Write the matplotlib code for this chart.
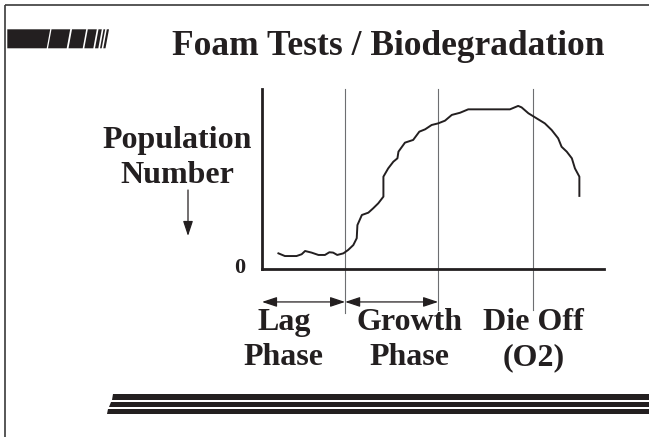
import matplotlib
matplotlib.use('Agg')
import matplotlib.pyplot as plt
from matplotlib.patches import Polygon

# кривая роста популяции (время / численность, условные единицы 0..100)
time = [4.8, 6.7, 10.1, 11.6, 12.6, 14.5, 16.5, 18.4, 19.7, 20.8, 22.0, 23.8,
        25.2, 26.7, 27.7, 27.9, 29.2, 31.1, 32.5, 34.0, 35.5, 35.5, 36.9, 38.4,
        39.6, 39.9, 41.8, 44.2, 46.0, 47.7, 49.6, 51.5, 53.5, 55.5, 57.9, 60.3,
        72.5, 74.9, 75.9, 77.9, 80.3, 82.7, 84.7, 86.6, 87.6, 89.1, 90.6, 91.5,
        92.8, 92.8]
population = [8.7, 7.2, 7.2, 8.2, 10.0, 9.1, 7.8, 7.8, 9.3, 9.1, 7.8, 8.7,
              10.6, 13.3, 17.1, 24.4, 30.0, 31.3, 33.7, 36.5, 40.2, 51.3, 55.9, 59.6,
              61.5, 65.2, 70.2, 71.7, 76.3, 77.6, 80.0, 80.9, 82.4, 85.6, 86.8, 88.7,
              88.7, 90.6, 89.8, 86.5, 83.7, 80.9, 77.2, 72.6, 67.9, 65.2, 61.5, 55.9,
              51.3, 40.6]

# границы фаз
phase_bounds = [24.3, 51.5, 79.2]
phase_top = ['Lag', 'Growth', 'Die Off']
phase_bottom = ['Phase', 'Phase', '(O2)']

title = 'Foam Tests / Biodegradation'
ylabel_lines = ['Population', 'Number']

ink = '#231f20'
font = 'Liberation Serif'
W, H = 649, 437

fig = plt.figure(figsize=(W / 100, H / 100), dpi=100)

# фоновый слой в пикселях: рамка, полосы, заголовок
bg = fig.add_axes([0, 0, 1, 1])
bg.set_xlim(0, W)
bg.set_ylim(H, 0)
bg.axis('off')

bg.plot([5, W], [5, 5], color='#3a3a3a', lw=1.2, solid_capstyle='butt')
bg.plot([5, 5], [5, H], color='#3a3a3a', lw=1.2, solid_capstyle='butt')

# декоративная полоса слева вверху
blocks = [(7.3, 46.7), (48, 66.7), (68.5, 82.7), (84.3, 93.3), (95, 98.3),
          (100, 101.7), (103.3, 105.5)]
slant = 3.5
for i, (x0, x1) in enumerate(blocks):
    top_left = x0 if i == 0 else x0 + slant
    bg.add_patch(Polygon([(x0, 48.3), (x1, 48.3), (x1 + slant, 29.3), (top_left, 29.3)],
                         closed=True, color=ink, lw=0))

# три полосы внизу
stripes = [(394, 399.5, 113, 111.5), (401.5, 406.5, 110.5, 109), (409, 414, 108, 106.5)]
for y0, y1, xt, xb in stripes:
    bg.add_patch(Polygon([(xt, y0), (W, y0), (W, y1), (xb, y1)], closed=True, color=ink, lw=0))

bg.text(388, 55, title, ha='center', va='baseline', fontsize=25.5, fontweight='bold',
        family=font, color=ink)
bg.text(177, 148, ylabel_lines[0], ha='center', va='baseline', fontsize=23,
        fontweight='bold', family=font, color=ink)
bg.text(177, 183, ylabel_lines[1], ha='center', va='baseline', fontsize=23,
        fontweight='bold', family=font, color=ink)
bg.annotate('', xy=(188, 236), xytext=(188, 190),
            arrowprops=dict(arrowstyle='-|>,head_length=0.9,head_width=0.3',
                            mutation_scale=10, color=ink, lw=0.9, shrinkA=0, shrinkB=0))

# основной график
ax = fig.add_axes([262 / W, 1 - 269 / H, (604 - 262) / W, (269 - 89) / H])
ax.patch.set_alpha(0)
ax.set_xlim(0, 100)
ax.set_ylim(0, 100)
for s in ['top', 'right']:
    ax.spines[s].set_visible(False)
for s in ['left', 'bottom']:
    ax.spines[s].set_linewidth(2)
    ax.spines[s].set_color(ink)
ax.set_xticks([])
ax.set_yticks([])

ax.plot(time, population, color=ink, lw=1.4)

line_bottoms = [-24.4, -22.8, -22.8]
for xb, yb in zip(phase_bounds, line_bottoms):
    ax.plot([xb, xb], [yb, 100], color='#6d6e71', lw=0.8, clip_on=False, zorder=1)

# стрелки фаз
arrow_y = -18.3
edges = [0] + phase_bounds[:2]
for a, b in zip(edges[:-1], edges[1:]):
    ax.annotate('', xy=(b, arrow_y), xytext=(a, arrow_y), annotation_clip=False,
                arrowprops=dict(arrowstyle='<|-|>,head_length=0.9,head_width=0.3',
                                mutation_scale=10, color=ink, lw=0.9, shrinkA=0, shrinkB=0))

label_x = [6.4, 43.0, 79.5]
for x, t1, t2 in zip(label_x, phase_top, phase_bottom):
    ax.text(x, -33.9, t1, ha='center', va='baseline', fontsize=23, fontweight='bold',
            family=font, color=ink, clip_on=False)
    ax.text(x, -53.3, t2, ha='center', va='baseline', fontsize=23, fontweight='bold',
            family=font, color=ink, clip_on=False)

ax.text(-5, 0.5, '0', ha='right', va='center', fontsize=16, fontweight='bold',
        family=font, color=ink)

fig.savefig('out.png', dpi=100)
